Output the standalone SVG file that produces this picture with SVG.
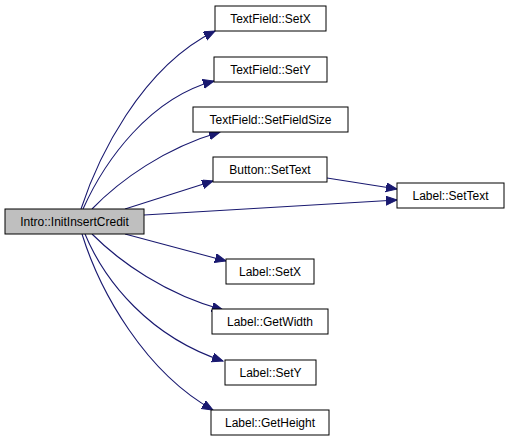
<svg xmlns="http://www.w3.org/2000/svg" width="509" height="443" viewBox="0 0 509 443">
<defs>
<style>
.n rect{fill:#ffffff;stroke:#000000;stroke-width:1}
.n.root rect{fill:#bfbfbf}
.n text{font-family:"Liberation Sans",Arial,sans-serif;font-size:12px;fill:#000000;text-anchor:middle}
.e path{fill:none;stroke:#191970;stroke-width:1.1;marker-end:url(#ah)}
</style>
<marker id="ah" markerUnits="userSpaceOnUse" markerWidth="12" markerHeight="10" refX="11" refY="4.5" orient="auto">
<path d="M0,0 L11,4.5 L0,9 Z" fill="#191970" stroke="#191970" stroke-width="1"/>
</marker>
</defs>
<rect width="509" height="443" fill="#ffffff"/>
<g id="edges" class="e">
<path d="M81,209 C97,160 140,68 215,31"/>
<path d="M83,209 C105,160 150,98 214,81"/>
<path d="M92,209 C120,180 165,148 220,132"/>
<path d="M125,209 L213,181"/>
<path d="M144,215 L397,200"/>
<path d="M327,178 L397,189"/>
<path d="M125,234 L226,261"/>
<path d="M92,234 C120,262 165,294 223,310"/>
<path d="M85,234 C105,282 150,337 223,361"/>
<path d="M82,234 C100,292 145,372 213,410"/>
</g>
<g id="intro" class="n root"><rect x="5" y="209" width="139" height="25"/><text x="74.5" y="225.5">Intro::InitInsertCredit</text></g>
<g id="tf_setx" class="n"><rect x="215" y="6" width="111" height="25"/><text x="270.5" y="22.5">TextField::SetX</text></g>
<g id="tf_sety" class="n"><rect x="214" y="57" width="113" height="25"/><text x="270.5" y="73.5">TextField::SetY</text></g>
<g id="tf_setfieldsize" class="n"><rect x="193" y="107" width="155" height="25"/><text x="270.5" y="123.5">TextField::SetFieldSize</text></g>
<g id="btn_settext" class="n"><rect x="213" y="157" width="114" height="25"/><text x="270" y="173.5">Button::SetText</text></g>
<g id="lbl_settext" class="n"><rect x="397" y="183" width="107" height="25"/><text x="450.5" y="199.5">Label::SetText</text></g>
<g id="lbl_setx" class="n"><rect x="226" y="259" width="88" height="25"/><text x="270" y="275.5">Label::SetX</text></g>
<g id="lbl_getwidth" class="n"><rect x="212" y="309" width="116" height="25"/><text x="270" y="325.5">Label::GetWidth</text></g>
<g id="lbl_sety" class="n"><rect x="225" y="360" width="91" height="25"/><text x="270.5" y="376.5">Label::SetY</text></g>
<g id="lbl_getheight" class="n"><rect x="211" y="410" width="118" height="25"/><text x="270" y="426.5">Label::GetHeight</text></g>
</svg>
